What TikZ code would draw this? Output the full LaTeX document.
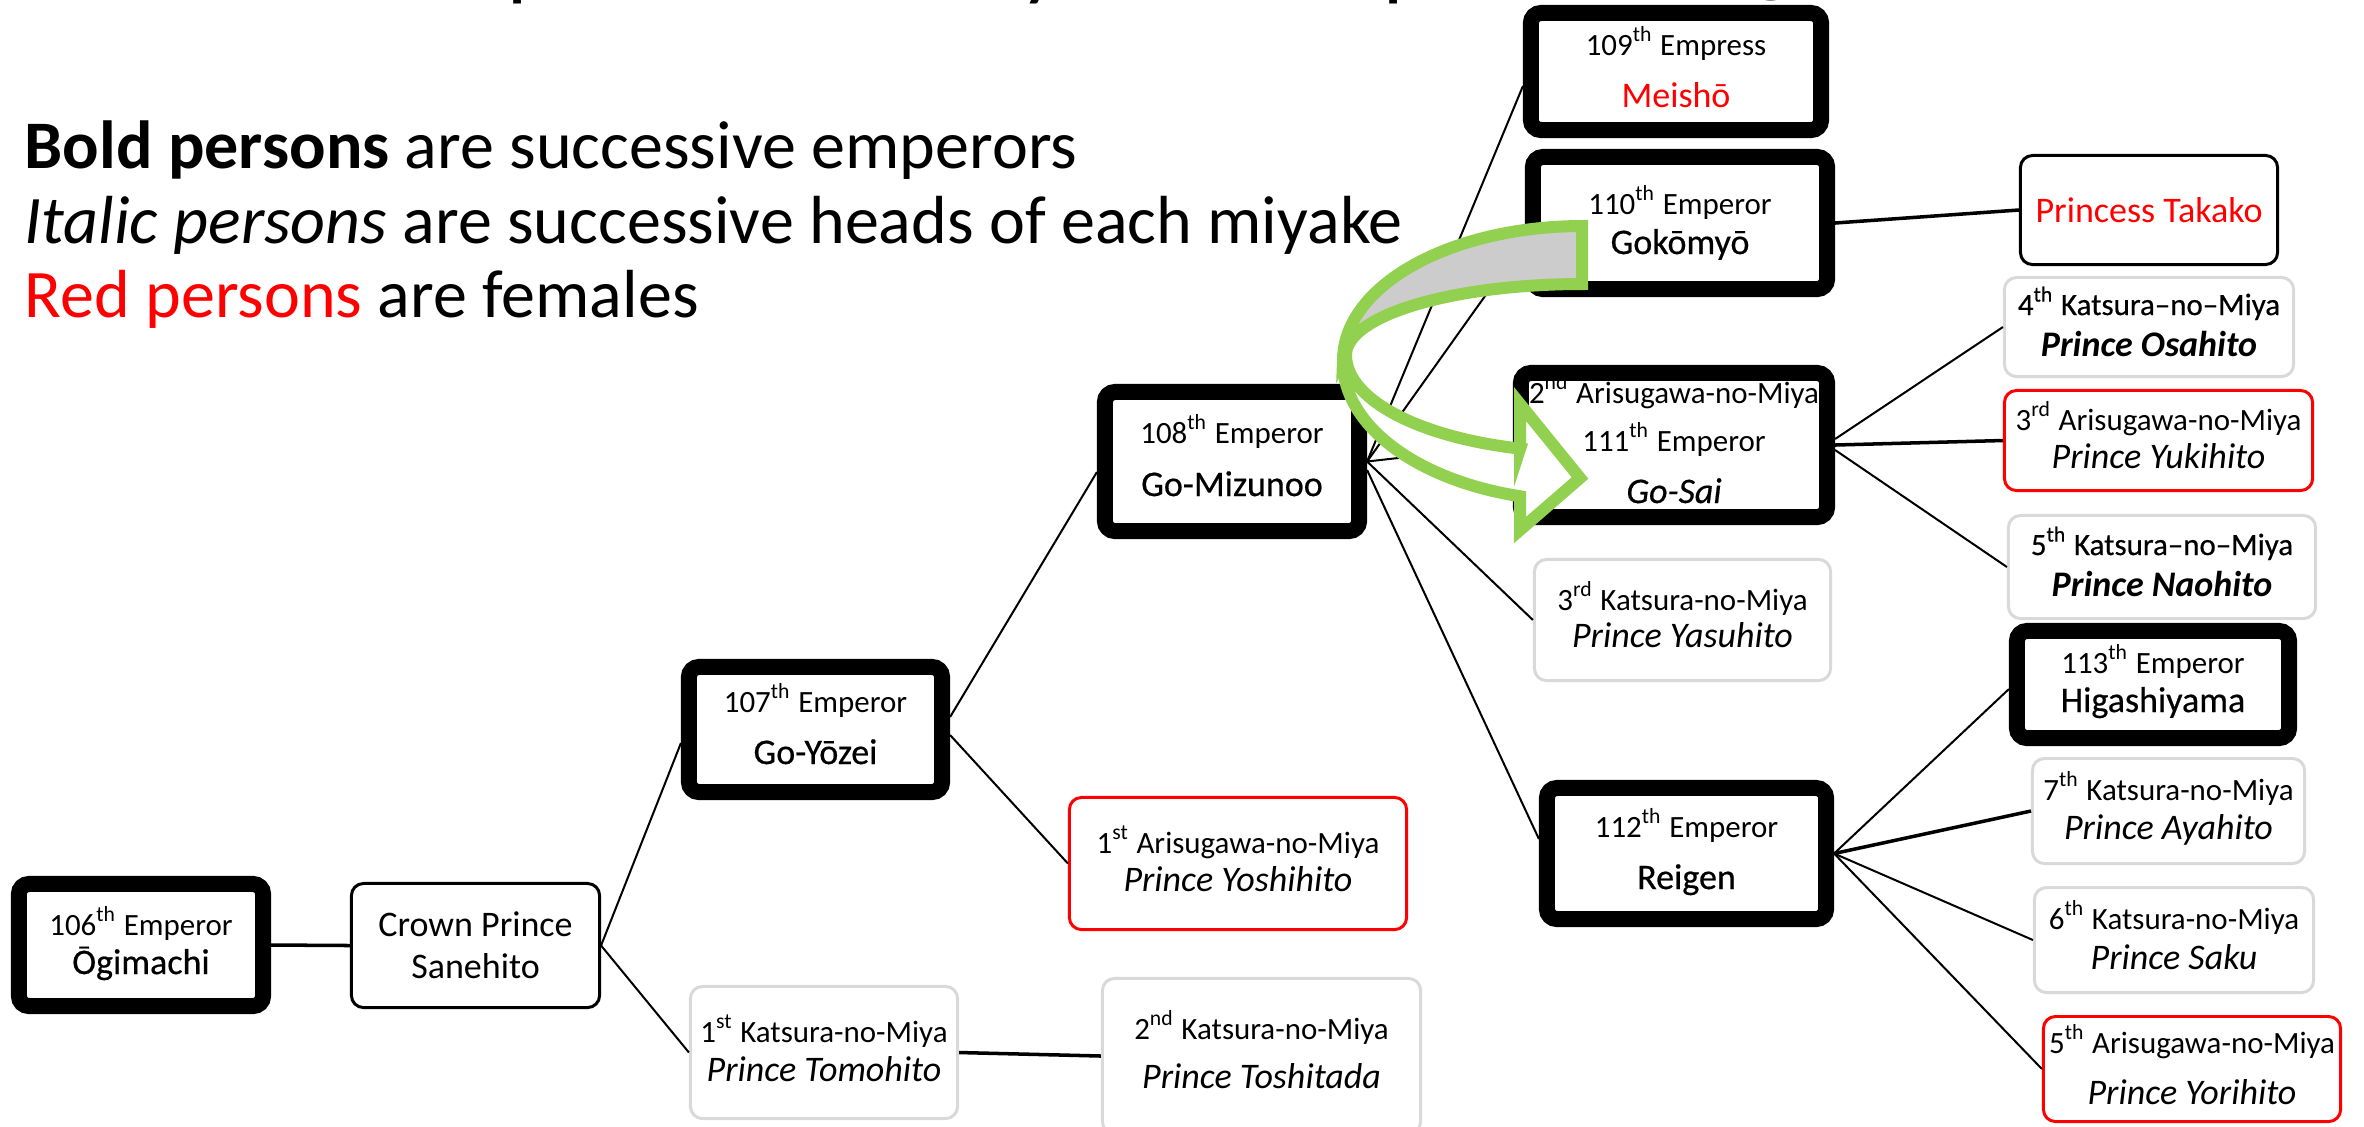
\documentclass[tikz,border=0pt]{standalone}
\usepackage{fontspec}
\setmainfont{Carlito}
\newfontfamily\medfont[FakeBold=0.5]{Carlito}
\definecolor{grn}{HTML}{92D050}
\definecolor{lgray}{HTML}{D9D9D9}
\definecolor{bandgray}{HTML}{CCCCCC}
\definecolor{pred}{HTML}{FF0000}
\newcommand\szS{\fontsize{8.8}{10.5}\selectfont}
\newcommand\szN{\fontsize{10.24}{12}\selectfont}
\newcommand\szL{\fontsize{19.35}{22}\selectfont}
\newcommand\szT{\fontsize{25.6}{30}\selectfont}
\tikzset{
  emp/.style={draw=black, line width=4.55pt, rounded corners=0.1cm, fill=white, inner sep=0pt},
  blk/.style={draw=black, line width=0.85pt, rounded corners=0.12cm, fill=white, inner sep=0pt},
  redb/.style={draw=pred, line width=0.85pt, rounded corners=0.12cm, fill=white, inner sep=0pt},
  gryb/.style={draw=lgray, line width=0.85pt, rounded corners=0.12cm, fill=white, inner sep=0pt},
  lab/.style={anchor=base, inner sep=0pt, font=\szS},
  nm/.style={anchor=base, inner sep=0pt, font=\szN},
  enm/.style={anchor=base, inner sep=0pt, font=\szN\medfont},
  leg/.style={anchor=base west, inner sep=0pt, font=\szL},
  ttl/.style={anchor=base west, inner sep=0pt, font=\szT},
  con/.style={line width=0.57pt},
  conb/.style={line width=1.0pt},
  band/.style={draw=grn, line width=3.41pt, line join=miter}
}
\begin{document}
\begin{tikzpicture}[x=0.01cm, y=-0.01cm]
\useasboundingbox (0,0) rectangle (2364,1126);
\fill[white] (0,0) rectangle (2364,1126);

% cut-off title (only descenders visible)
\node[ttl] (t1) at (507,-11) {p};
\node[ttl] (t2) at (1020,-11) {y};
\node[ttl] (t3) at (1383,-11) {p};
\node[ttl] (t4) at (1750,-15) {g};

% legend
\node[leg] (l1) at (24,168) {\textbf{Bold persons} are successive emperors};
\node[leg] (l2) at (24,243) {\textit{Italic persons} are successive heads of each miyake};
\node[leg] (l3) at (24,317) {\textcolor{pred}{Red persons} are females};

% boxes
\node[emp, minimum width=2.44cm, minimum height=1.22cm] (ogi) at (141,945) {};
\node[emp, minimum width=2.53cm, minimum height=1.25cm] (gyz) at (815.5,729.5) {};
\node[emp, minimum width=2.54cm, minimum height=1.39cm] (gmz) at (1232,461.5) {};
\node[emp, minimum width=2.90cm, minimum height=1.17cm] (meisho) at (1676,71.5) {};
\node[emp, minimum width=2.94cm, minimum height=1.32cm] (gokomyo) at (1680,223) {};
\node[emp, minimum width=3.06cm, minimum height=1.44cm] (gosai) at (1674,445) {};
\node[emp, minimum width=2.72cm, minimum height=1.07cm] (higashi) at (2153,684.5) {};
\node[emp, minimum width=2.79cm, minimum height=1.31cm] (reigen) at (1686.5,853.5) {};
\node[blk, minimum width=2.48cm, minimum height=1.24cm] (sane) at (475.5,945.5) {};
\node[redb, minimum width=3.37cm, minimum height=1.32cm] (yoshi) at (1238,863.5) {};
\node[gryb, minimum width=2.67cm, minimum height=1.32cm] (tomo) at (824,1052.5) {};
\node[gryb, minimum width=3.18cm, minimum height=1.55cm] (tosh) at (1261.5,1056) {};
\node[blk, minimum width=2.57cm, minimum height=1.09cm] (takako) at (2149,210) {};
\node[gryb, minimum width=2.89cm, minimum height=0.99cm] (osahito) at (2149,327) {};
\node[redb, minimum width=3.08cm, minimum height=1.00cm] (yuki) at (2158.5,440.5) {};
\node[gryb, minimum width=3.07cm, minimum height=1.03cm] (nao) at (2162,567) {};
\node[gryb, minimum width=2.96cm, minimum height=1.21cm] (yasu) at (1682.5,620) {};
\node[gryb, minimum width=2.72cm, minimum height=1.05cm] (aya) at (2168.5,811) {};
\node[gryb, minimum width=2.79cm, minimum height=1.05cm] (saku) at (2174,940) {};
\node[redb, minimum width=2.97cm, minimum height=1.05cm] (yori) at (2192,1069) {};

% connectors
\draw[conb] (ogi.east) -- (sane.west);
\draw[con] (sane.east) -- ([yshift=-0.135cm]gyz.west);
\draw[con] (sane.east) -- (tomo.west);
\draw[conb] (tomo.east) -- (tosh.west);
\draw[con] ([yshift=0.125cm]gyz.east) -- ([yshift=-0.105cm]gmz.west);
\draw[con] ([yshift=-0.055cm]gyz.east) -- (yoshi.west);
\draw[con] (gmz.east) -- ([yshift=-0.145cm]meisho.west);
\draw[con] (gmz.east) -- ([yshift=-0.17cm]gokomyo.west);
\draw[con] (gmz.east) -- (gosai.west);
\draw[con] (gmz.east) -- (yasu.west);
\draw[con] ([yshift=-0.085cm]gmz.east) -- ([yshift=0.145cm]reigen.west);
\draw[conb] (gokomyo.east) -- (takako.west);
\draw[con] ([yshift=0.06cm]gosai.east) -- (osahito.west);
\draw[conb] (gosai.east) -- (yuki.west);
\draw[con] ([yshift=-0.05cm]gosai.east) -- (nao.west);
\draw[con] (reigen.east) -- ([yshift=-0.045cm]higashi.west);
\draw[conb] (reigen.east) -- (aya.west);
\draw[con] (reigen.east) -- (saku.west);
\draw[con] (reigen.east) -- (yori.west);

% texts
\node[lab] (ogi1) at (141,935) {106\textsuperscript{th} Emperor};
\node[enm] (ogi2) at (141,974) {Ōgimachi};
\node[nm] (sane1) at (475.5,936) {Crown Prince};
\node[nm] (sane2) at (475.5,978) {Sanehito};
\node[lab] (gyz1) at (815.5,712) {107\textsuperscript{th} Emperor};
\node[enm] (gyz2) at (815.5,764) {Go-Yōzei};
\node[lab] (yoshi1) at (1238,853) {1\textsuperscript{st} Arisugawa-no-Miya};
\node[nm] (yoshi2) at (1238,891) {\itshape Prince Yoshihito};
\node[lab] (tomo1) at (824,1042) {1\textsuperscript{st} Katsura-no-Miya};
\node[nm] (tomo2) at (824,1081) {\itshape Prince Tomohito};
\node[lab] (tosh1) at (1261.5,1039) {2\textsuperscript{nd} Katsura-no-Miya};
\node[nm] (tosh2) at (1261.5,1088) {\itshape Prince Toshitada};
\node[lab] (gmz1) at (1232,443) {108\textsuperscript{th} Emperor};
\node[enm] (gmz2) at (1232,496) {Go-Mizunoo};
\node[lab] (meisho1) at (1676,55) {109\textsuperscript{th} Empress};
\node[nm, text=pred] (meisho2) at (1676,107) {Meishō};
\node[lab] (goko1) at (1680,214) {110\textsuperscript{th} Emperor};
\node[enm] (goko2) at (1680,254) {Gokōmyō};
\node[lab] (gosai1) at (1674,403) {2\textsuperscript{nd} Arisugawa-no-Miya};
\node[lab] (gosai2) at (1674,451) {111\textsuperscript{th} Emperor};
\node[enm] (gosai3) at (1674,503) {\itshape Go-Sai};
\node[nm, text=pred] (takako1) at (2149,222) {Princess Takako};
\node[lab] (osa1) at (2149,315) {\medfont 4\textsuperscript{th} Katsura–no–Miya};
\node[nm] (osa2) at (2149,356) {\bfseries\itshape Prince Osahito};
\node[lab] (yuki1) at (2158.5,430) {3\textsuperscript{rd} Arisugawa-no-Miya};
\node[nm] (yuki2) at (2158.5,468) {\itshape Prince Yukihito};
\node[lab] (nao1) at (2162,555) {\medfont 5\textsuperscript{th} Katsura–no–Miya};
\node[nm] (nao2) at (2162,596) {\bfseries\itshape Prince Naohito};
\node[lab] (yasu1) at (1682.5,610) {3\textsuperscript{rd} Katsura-no-Miya};
\node[nm] (yasu2) at (1682.5,647) {\itshape Prince Yasuhito};
\node[lab] (hig1) at (2153,673) {113\textsuperscript{th} Emperor};
\node[enm] (hig2) at (2153,712) {Higashiyama};
\node[lab] (rei1) at (1686.5,837) {112\textsuperscript{th} Emperor};
\node[enm] (rei2) at (1686.5,889) {Reigen};
\node[lab] (aya1) at (2168.5,800) {7\textsuperscript{th} Katsura-no-Miya};
\node[nm] (aya2) at (2168.5,839) {\itshape Prince Ayahito};
\node[lab] (saku1) at (2174,929) {6\textsuperscript{th} Katsura-no-Miya};
\node[nm] (saku2) at (2174,969) {\itshape Prince Saku};
\node[lab] (yori1) at (2192,1053) {5\textsuperscript{th} Arisugawa-no-Miya};
\node[nm] (yori2) at (2192,1104) {\itshape Prince Yorihito};

% curved block arrow
\path[band, fill=bandgray]
  plot[domain=0:90, samples=40] ({1582+239*cos(-90-\x)},{360+134*sin(-90-\x)})
  -- plot[domain=180:270, samples=40] ({1582+236*cos(\x)},{355+71*sin(\x)})
  -- cycle;
\path[band, fill=white]
  plot[domain=0:75, samples=40] ({1582+239*cos(180-\x)},{362+139*sin(180-\x)})
  -- (1520,530) -- (1580,478) -- (1520,404) -- (1520,449)
  -- plot[domain=105.2:180, samples=40] ({1582+236*cos(\x)},{355+97*sin(\x)})
  -- cycle;
\end{tikzpicture}
\end{document}
